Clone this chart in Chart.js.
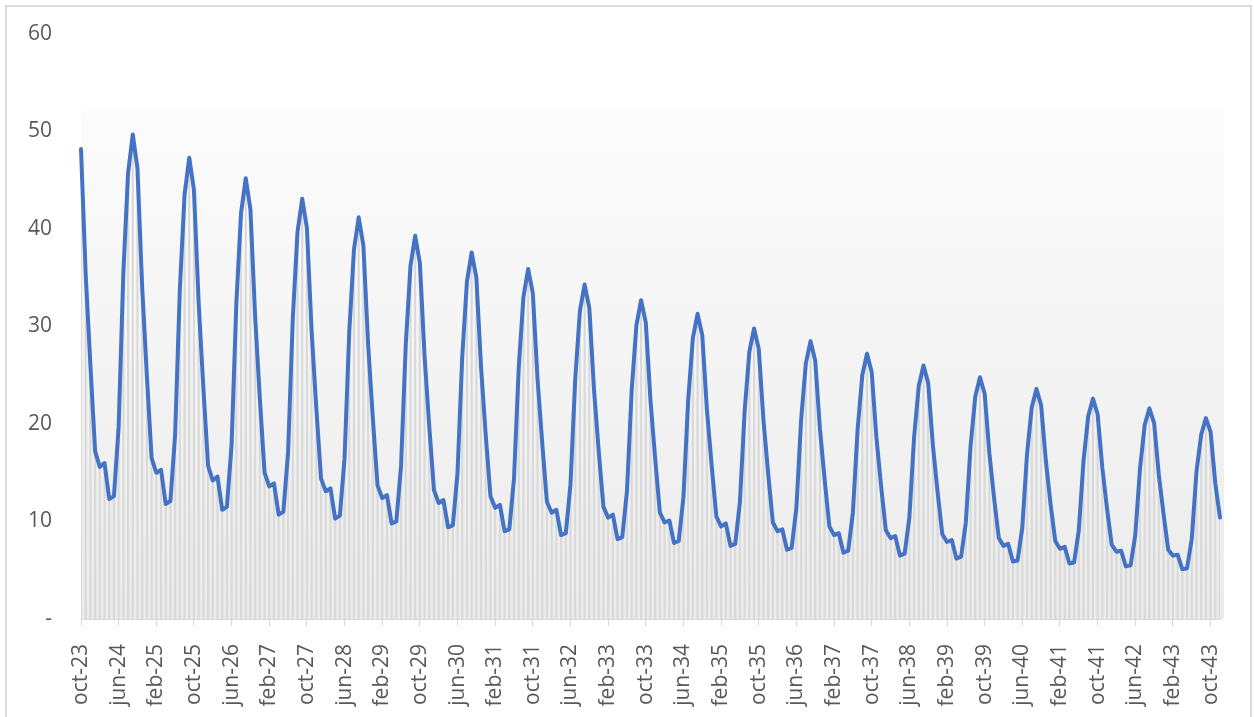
<!DOCTYPE html>
<html lang="es">
<head>
    <meta charset="UTF-8">
    <title>Serie mensual</title>
    <script src="https://cdn.jsdelivr.net/npm/chart.js"></script>
    <style>
        body {
            margin: 0;
            background: #ffffff;
            overflow: hidden;
            font-family: "Open Sans", sans-serif;
        }

        .frame {
            position: absolute;
            left: 5px;
            top: 5px;
            width: 1243px;
            height: 720px;
            border: 2px solid #d9d9d9;
        }

        .frame canvas {
            display: block;
        }
    </style>
</head>
<body>
<div class="frame">
    <canvas id="chart" width="1243" height="712"></canvas>
</div>

<script>
    // month names used for the category labels
    const monthNames = ['jan', 'feb', 'mar', 'apr', 'may', 'jun', 'jul', 'aug', 'sep', 'oct', 'nov', 'dec'];
    const startYear = 2023;
    const startMonth = 9; // oct
    const labelStep = 8;  // a label every 8 months

    // y axis ticks
    const yTicks = [0, 10, 20, 30, 40, 50, 60];
    const bandTop = 52.3; // top of the shaded band behind the columns

    // monthly values, oct-23 .. dec-43
    const values = [
        48.2, 35.3, 26.0,
        17.2, 15.6, 16.0, 12.3, 12.6, 19.7, 35.5, 45.7, 49.7, 46.2, 34.0, 24.9,
        16.5, 15.0, 15.3, 11.8, 12.1, 18.9, 33.8, 43.5, 47.3, 44.0, 32.4, 23.7,
        15.7, 14.2, 14.6, 11.2, 11.5, 17.9, 32.3, 41.6, 45.2, 42.0, 31.0, 22.6,
        15.0, 13.6, 13.9, 10.7, 11.0, 17.1, 30.8, 39.7, 43.1, 40.1, 29.5, 21.6,
        14.4, 13.1, 13.4, 10.3, 10.6, 16.5, 29.5, 37.9, 41.2, 38.3, 28.2, 20.6,
        13.7, 12.4, 12.7, 9.8, 10.0, 15.7, 28.1, 36.2, 39.3, 36.5, 26.9, 19.7,
        13.2, 11.9, 12.2, 9.4, 9.6, 15.0, 26.9, 34.6, 37.6, 35.0, 25.8, 18.8,
        12.6, 11.4, 11.7, 9.0, 9.2, 14.4, 25.7, 33.0, 35.9, 33.4, 24.6, 18.0,
        12.0, 10.9, 11.2, 8.6, 8.8, 13.8, 24.5, 31.6, 34.3, 31.9, 23.5, 17.2,
        11.5, 10.4, 10.7, 8.2, 8.4, 13.1, 23.4, 30.1, 32.7, 30.4, 22.4, 16.4,
        10.9, 9.9, 10.1, 7.8, 8.0, 12.5, 22.4, 28.8, 31.3, 29.1, 21.4, 15.7,
        10.5, 9.5, 9.8, 7.5, 7.7, 12.0, 21.3, 27.4, 29.8, 27.7, 20.4, 14.9,
        9.9, 9.0, 9.2, 7.1, 7.3, 11.4, 20.4, 26.2, 28.5, 26.5, 19.5, 14.3,
        9.5, 8.6, 8.8, 6.8, 7.0, 10.9, 19.4, 25.0, 27.2, 25.3, 18.6, 13.6,
        9.1, 8.3, 8.5, 6.5, 6.7, 10.4, 18.6, 23.9, 26.0, 24.2, 17.8, 13.0,
        8.7, 7.9, 8.1, 6.2, 6.4, 9.9, 17.7, 22.8, 24.8, 23.1, 17.0, 12.4,
        8.3, 7.5, 7.7, 5.9, 6.0, 9.4, 16.9, 21.7, 23.6, 21.9, 16.2, 11.8,
        8.0, 7.2, 7.4, 5.7, 5.8, 9.1, 16.2, 20.8, 22.6, 21.0, 15.5, 11.3,
        7.6, 6.9, 7.0, 5.4, 5.5, 8.6, 15.4, 19.9, 21.6, 20.1, 14.8, 10.8,
        7.1, 6.5, 6.6, 5.1, 5.2, 8.2, 15.1, 18.9, 20.6, 19.2, 13.9, 10.4
    ];

    // build "oct-23" style labels
    const labels = [];
    for (let i = 0; i < values.length; i++) {
        const m = (startMonth + i) % 12;
        const y = startYear + Math.floor((startMonth + i) / 12);
        labels.push(monthNames[m] + '-' + String(y).slice(2));
    }

    const textColor = '#595959';
    const axisColor = '#d9d9d9';

    // light grey band behind the columns
    const bandPlugin = {
        id: 'band',
        beforeDatasetsDraw(chart) {
            const { ctx, chartArea, scales } = chart;
            const top = scales.y.getPixelForValue(bandTop);
            const bottom = scales.y.getPixelForValue(0);
            const g = ctx.createLinearGradient(0, top, 0, bottom);
            g.addColorStop(0, '#fcfcfc');
            g.addColorStop(1, '#ebebeb');
            ctx.save();
            ctx.fillStyle = g;
            ctx.fillRect(chartArea.left, top, chartArea.right - chartArea.left + 4, bottom - top);
            ctx.restore();
        }
    };

    new Chart(document.getElementById('chart'), {
        type: 'line',
        data: {
            labels: labels,
            datasets: [
                {
                    type: 'line',
                    data: values,
                    borderColor: '#4472C4',
                    borderWidth: 4,
                    pointRadius: 0,
                    tension: 0,
                    borderJoinStyle: 'round',
                    borderCapStyle: 'round',
                    fill: false,
                    order: 0
                },
                {
                    type: 'bar',
                    data: values,
                    backgroundColor: '#d9d9d9',
                    barPercentage: 0.45,
                    categoryPercentage: 1.0,
                    order: 1
                }
            ]
        },
        options: {
            responsive: false,
            animation: false,
            layout: {
                padding: { top: 27, right: 30, left: 0, bottom: 0 }
            },
            plugins: {
                legend: { display: false },
                tooltip: { enabled: false }
            },
            scales: {
                x: {
                    offset: false,
                    afterFit(scale) {
                        scale.height = 100;
                        scale.paddingLeft = 0;
                        scale.paddingRight = 0;
                    },
                    border: { display: true, color: axisColor, width: 1 },
                    grid: {
                        offset: false,
                        drawOnChartArea: false,
                        drawTicks: true,
                        tickLength: 7,
                        color: c => (c.index % labelStep === 0 ? axisColor : 'rgba(0,0,0,0)'),
                        tickColor: c => (c.index % labelStep === 0 ? axisColor : 'rgba(0,0,0,0)')
                    },
                    ticks: {
                        autoSkip: false,
                        maxRotation: 90,
                        minRotation: 90,
                        padding: 18,
                        color: textColor,
                        font: { family: 'Open Sans', size: 21 },
                        callback: function (v, i) {
                            return i % labelStep === 0 ? this.getLabelForValue(v) : '';
                        }
                    }
                },
                y: {
                    min: yTicks[0],
                    max: yTicks[yTicks.length - 1],
                    afterFit(scale) {
                        scale.width = 74;
                        scale.paddingTop = 0;
                        scale.paddingBottom = 0;
                    },
                    border: { display: false },
                    grid: { display: false, drawTicks: false },
                    afterBuildTicks(scale) {
                        scale.ticks = yTicks.map(v => ({ value: v }));
                    },
                    ticks: {
                        padding: 29,
                        color: textColor,
                        font: { family: 'Open Sans', size: 21 },
                        callback: v => (v === 0 ? '-' : v)
                    }
                }
            }
        },
        plugins: [bandPlugin]
    });
</script>
</body>
</html>
